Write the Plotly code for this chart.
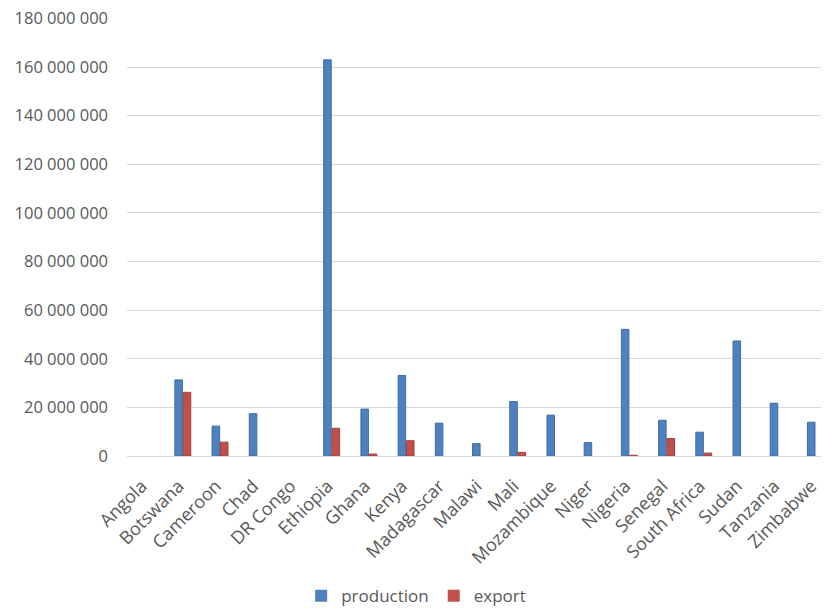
import plotly.graph_objects as go

countries = ["Angola", "Botswana", "Cameroon", "Chad", "DR Congo", "Ethiopia", "Ghana",
             "Kenya", "Madagascar", "Malawi", "Mali", "Mozambique", "Niger", "Nigeria",
             "Senegal", "South Africa", "Sudan", "Tanzania", "Zimbabwe"]
production = [0, 31300000, 12300000, 17400000, 0, 163000000, 19300000,
              33100000, 13500000, 5100000, 22400000, 16800000, 5500000, 52100000,
              14700000, 9800000, 47300000, 21700000, 13900000]
export = [0, 26200000, 5700000, 0, 0, 11400000, 800000,
          6300000, 0, 0, 1500000, 0, 0, 300000,
          7200000, 1200000, 0, 0, 0]
y_ticks = [0, 20000000, 40000000, 60000000, 80000000, 100000000,
           120000000, 140000000, 160000000, 180000000]

font_family = "Open Sans"
gray = "#595959"

def edge_widths(values):
    return [1 if v > 0 else 0 for v in values]

fig = go.Figure()
fig.add_trace(go.Bar(x=countries, y=production, name="production",
                     marker=dict(color="#4F81BD",
                                 line=dict(color="#3C6DA8", width=edge_widths(production)))))
fig.add_trace(go.Bar(x=countries, y=export, name="export",
                     marker=dict(color="#C0504D",
                                 line=dict(color="#A83F3C", width=edge_widths(export)))))

fig.update_layout(
    width=829, height=609,
    margin=dict(l=119, r=3, t=10, b=150),
    paper_bgcolor="white", plot_bgcolor="white",
    barmode="group", bargap=0.55, bargroupgap=0.1,
    separators=". ",
    font=dict(family=font_family, size=17, color=gray),
    showlegend=True,
    legend=dict(orientation="h", x=0.409, xanchor="center", y=-0.279, yanchor="top",
                font=dict(size=17, color=gray)),
    xaxis=dict(tickangle=-45, showgrid=False, showline=False, ticks="",
               automargin=False, ticklabelstandoff=15, ticklabelshift=-4,
               tickfont=dict(size=18, color=gray)),
    yaxis=dict(range=[0, 180200000], tickvals=y_ticks, tickformat=",d",
               showgrid=True, gridcolor="#D9D9D9", gridwidth=1.3,
               zeroline=True, zerolinecolor="#D9D9D9", zerolinewidth=1.3,
               showline=False, ticks="", ticklabelstandoff=18, automargin=False,
               ticklabeloverflow="allow",
               tickfont=dict(size=16.5, color=gray)),
)

fig.write_html("out.html")
